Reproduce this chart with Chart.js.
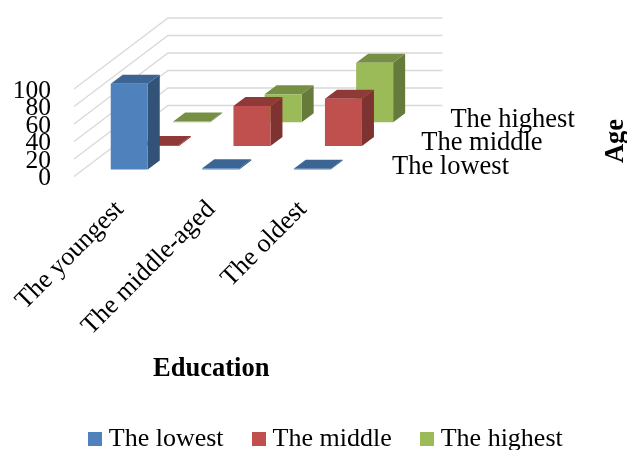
<!DOCTYPE html>
<html>
<head>
<meta charset="utf-8">
<script src="https://cdn.jsdelivr.net/npm/chart.js@4"></script>
<style>
html, body { margin: 0; padding: 0; background: #fff; overflow: hidden; }
#wrap { width: 627px; height: 450px; }
</style>
</head>
<body>
<div id="wrap"><canvas id="chart" width="627" height="450"></canvas></div>
<script>
const categories = ['The youngest', 'The middle-aged', 'The oldest'];
const seriesNames = ['The lowest', 'The middle', 'The highest'];
const lowestValues = [98, 1.5, 1];
const middleValues = [1, 45.5, 54];
const highestValues = [1, 32, 68];

const frontColors = ['#4F81BD', '#C0504D', '#9BBB59'];
const topColors = ['#3D6594', '#8F3A38', '#778F45'];
const sideColors = ['#335278', '#7F3330', '#657A3B'];

const FONT = '"Liberation Serif", "Times New Roman", serif';
const FONT_SIZE = 26.5;

// depth projection: rows step back along the floor
const WALL_DX = 94, WALL_DY = -71;
const ROW_DX = 31.2, ROW_DY = -23.6;
const ROW0_DX = 9.5, ROW0_DY = -7;
const BAR_DX = 12, BAR_DY = -9;

function poly(ctx, color, pts) {
    ctx.fillStyle = color;
    ctx.beginPath();
    pts.forEach((p, i) => i ? ctx.lineTo(p[0], p[1]) : ctx.moveTo(p[0], p[1]));
    ctx.closePath();
    ctx.fill();
}

// legend swatch, sits closer to its text than the stock box does
function swatch(color) {
    const c = document.createElement('canvas');
    c.width = 14;
    c.height = 14;
    const g = c.getContext('2d');
    g.fillStyle = color;
    g.fillRect(0, 0, 14, 14);
    return c;
}

const bars3d = {
    id: 'bars3d',
    afterLayout(chart) {
        // tick labels get clipped to the scale box, let it reach the canvas edge
        chart.scales.y.left = 0;
    },
    beforeDatasetsDraw(chart) {
        const { ctx, scales: { y }, chartArea: area } = chart;
        ctx.save();
        ctx.strokeStyle = '#D9D9D9';
        ctx.lineWidth = 1.3;
        y.ticks.forEach(t => {
            const py = y.getPixelForValue(t.value);
            ctx.beginPath();
            ctx.moveTo(area.left, py);
            ctx.lineTo(area.left + WALL_DX, py + WALL_DY);
            ctx.lineTo(area.right + WALL_DX, py + WALL_DY);
            ctx.stroke();
        });
        ctx.restore();
    },
    beforeDatasetDraw(chart, args) {
        const { ctx } = chart;
        const i = args.index;
        const ox = ROW0_DX + ROW_DX * i;
        const oy = ROW0_DY + ROW_DY * i;
        ctx.save();
        ctx.translate(ox, oy);
        args.meta.data.forEach(bar => {
            const l = bar.x - bar.width / 2, r = bar.x + bar.width / 2;
            const t = bar.y, b = bar.base;
            poly(ctx, sideColors[i], [[r, t], [r + BAR_DX, t + BAR_DY], [r + BAR_DX, b + BAR_DY], [r, b]]);
            poly(ctx, topColors[i], [[l, t], [l + BAR_DX, t + BAR_DY], [r + BAR_DX, t + BAR_DY], [r, t]]);
            poly(ctx, frontColors[i], [[l, t], [r, t], [r, b], [l, b]]);
        });
        ctx.restore();
        return false;
    },
    afterDraw(chart) {
        const { ctx, scales: { y }, chartArea: area } = chart;
        ctx.save();
        ctx.fillStyle = '#000';
        ctx.font = FONT_SIZE + 'px ' + FONT;
        ctx.textAlign = 'left';
        ctx.textBaseline = 'alphabetic';
        const zero = y.getPixelForValue(0);
        seriesNames.forEach((name, i) => {
            ctx.fillText(name, area.right + 43.5 + i * 29.2, zero - 3 - i * 23.5);
        });
        ctx.font = 'bold ' + FONT_SIZE + 'px ' + FONT;
        ctx.textAlign = 'center';
        ctx.translate(623, 141);
        ctx.rotate(-Math.PI / 2);
        ctx.fillText('Age', 0, 0);
        ctx.restore();
    }
};

const datasets = [lowestValues, middleValues, highestValues].map((values, i) => ({
    label: seriesNames[i],
    data: values,
    backgroundColor: frontColors[i],
    borderWidth: 0,
    grouped: false,
    barPercentage: 37 / 91.5,
    categoryPercentage: 1
}));

new Chart(document.getElementById('chart'), {
    type: 'bar',
    data: { labels: categories, datasets: datasets },
    plugins: [bars3d],
    options: {
        responsive: false,
        animation: false,
        devicePixelRatio: 1,
        layout: { padding: { left: 30, top: 89, right: 0, bottom: -12 } },
        plugins: {
            tooltip: { enabled: false },
            legend: {
                position: 'bottom',
                labels: {
                    color: '#000',
                    font: { family: FONT, size: 26 },
                    usePointStyle: true,
                    pointStyleWidth: 1.5,
                    padding: 34.5,
                    generateLabels(chart) {
                        return seriesNames.map((name, i) => ({
                            text: name,
                            datasetIndex: i,
                            fontColor: '#000',
                            pointStyle: swatch(frontColors[i])
                        }));
                    }
                }
            }
        },
        scales: {
            x: {
                grid: { display: false },
                border: { display: false },
                ticks: {
                    color: '#000',
                    font: { family: FONT, size: 26 },
                    minRotation: 45,
                    maxRotation: 45,
                    autoSkip: false,
                    padding: 10
                },
                title: {
                    display: true,
                    text: 'Education',
                    color: '#000',
                    font: { family: FONT, size: FONT_SIZE, weight: 'bold' },
                    padding: { top: 0, bottom: 6 }
                },
                afterFit(scale) {
                    scale.height = 215;
                    scale.paddingLeft = 0;
                    scale.paddingRight = 0;
                }
            },
            y: {
                min: 0,
                max: 100,
                grid: { display: false, drawTicks: false },
                border: { display: false },
                ticks: {
                    stepSize: 20,
                    autoSkip: false,
                    color: '#000',
                    font: { family: FONT, size: 25.5 },
                    padding: 23,
                    labelOffset: 2
                },
                afterFit(scale) {
                    scale.width = 44;
                    scale.paddingTop = 0;
                    scale.paddingBottom = 0;
                }
            },
            spacer: {
                position: 'right',
                grid: { display: false, drawTicks: false },
                border: { display: false },
                ticks: { display: false },
                afterFit(scale) {
                    scale.width = 278.5;
                }
            }
        }
    }
});
</script>
</body>
</html>
